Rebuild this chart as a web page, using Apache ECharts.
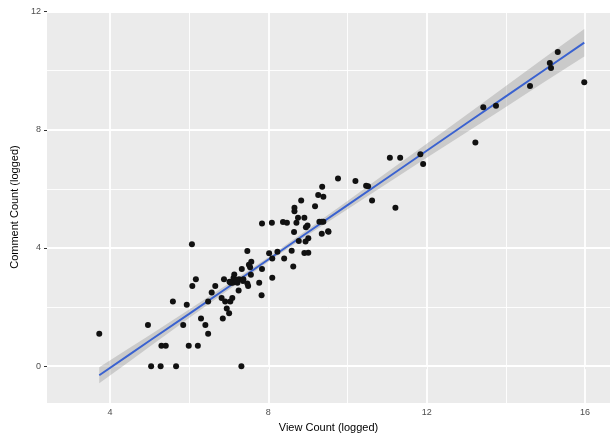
<!DOCTYPE html>
<html>
<head>
<meta charset="utf-8">
<script src="https://cdn.jsdelivr.net/npm/echarts@6/dist/echarts.min.js"></script>
<style>html,body{margin:0;padding:0;background:#fff}#c{width:611px;height:438px}</style>
</head>
<body>
<div id="c"></div>
<script>
// Observed points (logged values)
const viewCount = [3.73,4.96,5.04,5.28,5.30,5.41,5.59,5.67,5.85,5.94,5.99,6.07,6.08,6.17,6.22,6.30,6.41,6.48,6.48,6.57,6.66,6.82,6.85,6.88,6.91,6.95,7.01,7.04,7.05,7.09,7.10,7.14,7.18,7.22,7.25,7.26,7.32,7.33,7.37,7.36,7.47,7.47,7.49,7.51,7.54,7.56,7.57,7.77,7.83,7.84,7.84,8.02,8.09,8.10,8.10,8.23,8.37,8.40,8.47,8.59,8.63,8.65,8.66,8.66,8.71,8.75,8.77,8.83,8.91,8.91,8.94,8.95,8.99,9.01,9.01,9.18,9.26,9.29,9.35,9.35,9.36,9.39,9.39,9.51,9.52,9.76,10.20,10.47,10.52,10.62,11.07,11.21,11.33,11.84,11.91,13.23,13.43,13.75,14.61,15.11,15.14,15.31,15.98,7.02,7.12,7.20];
const commentCount = [1.10,1.39,0,0,0.69,0.69,2.19,0,1.39,2.08,0.69,4.13,2.71,2.94,0.69,1.61,1.39,1.10,2.19,2.49,2.71,2.31,1.61,2.94,2.19,1.95,1.79,2.19,2.82,2.31,2.82,3.10,2.92,2.82,2.56,2.94,0,3.29,2.94,2.88,3.90,2.80,2.71,3.43,3.35,3.09,3.53,2.82,2.40,3.29,4.83,3.82,4.85,3.64,2.99,3.87,4.88,3.64,4.85,3.91,3.37,4.54,5.36,5.24,4.85,5.02,4.24,5.61,5.02,3.83,4.22,4.70,4.76,4.33,3.84,5.41,5.79,4.89,4.48,4.89,6.07,5.73,4.89,4.57,4.55,6.35,6.27,6.11,6.09,5.61,7.05,5.36,7.05,7.17,6.84,7.57,8.76,8.81,9.48,10.26,10.09,10.63,9.61,2.86,2.98,2.90];

// Fitted line and confidence band
const fitX     = [3.73,4.5,5,6,7,8,9,10,11,12,13,14,15,15.98];
const fitY     = [-0.31,0.40,0.86,1.77,2.69,3.61,4.53,5.45,6.37,7.29,8.21,9.13,10.05,10.95];
const bandLow  = [-0.58,0.17,0.66,1.63,2.59,3.53,4.44,5.31,6.18,7.05,7.91,8.77,9.64,10.48];
const bandHigh = [-0.04,0.62,1.05,1.92,2.80,3.69,4.63,5.59,6.56,7.53,8.50,9.48,10.46,11.41];

// Axis ticks
const xTicks = [4,8,12,16];
const yTicks = [0,4,8,12];
const xMinor = [6,10,14];
const yMinor = [2,6,10];

const points = viewCount.map((v,i)=>[v, commentCount[i]]);
const lineData = fitX.map((v,i)=>[v, fitY[i]]);
const bandData = fitX.map((v,i)=>[v, bandLow[i], bandHigh[i]]);

const gridLines = [];
xTicks.forEach(v=>gridLines.push({xAxis:v, lineStyle:{color:'#fff', width:1.8, type:'solid'}}));
yTicks.forEach(v=>gridLines.push({yAxis:v, lineStyle:{color:'#fff', width:1.8, type:'solid'}}));
xMinor.forEach(v=>gridLines.push({xAxis:v, lineStyle:{color:'#fff', width:0.9, type:'solid'}}));
yMinor.forEach(v=>gridLines.push({yAxis:v, lineStyle:{color:'#fff', width:0.9, type:'solid'}}));

const font = 'Liberation Sans, Arial, sans-serif';
const chart = echarts.init(document.getElementById('c'), null, {renderer:'canvas'});
chart.setOption({
  animation:false,
  backgroundColor:'#fff',
  grid:{left:47, right:1, top:11, bottom:31, show:true, backgroundColor:'#EBEBEB', borderWidth:0},
  xAxis:{
    type:'value', min:2.41, max:16.63,
    name:'View Count (logged)', nameLocation:'middle', nameGap:15,
    nameTextStyle:{color:'#000', fontSize:11, fontFamily:font},
    axisLine:{show:false},
    axisTick:{show:true, length:3, lineStyle:{color:'#333', width:1}, customValues:xTicks},
    axisLabel:{color:'#4D4D4D', fontSize:9, fontFamily:font, margin:5, customValues:xTicks},
    splitLine:{show:false}
  },
  yAxis:{
    type:'value', min:-1.25, max:12.02,
    name:'Comment Count (logged)', nameLocation:'middle', nameGap:20,
    nameTextStyle:{color:'#000', fontSize:11, fontFamily:font},
    axisLine:{show:false},
    axisTick:{show:true, length:3, lineStyle:{color:'#333', width:1}, customValues:yTicks},
    axisLabel:{color:'#4D4D4D', fontSize:9, fontFamily:font, margin:6, customValues:yTicks},
    splitLine:{show:false}
  },
  series:[
    {type:'scatter', data:[[3,3]], symbolSize:0, silent:true, z:1,
     markLine:{silent:true, z:1, symbol:['none','none'], label:{show:false}, animation:false, data:gridLines}},
    {type:'custom', data:bandData, z:2, silent:true, clip:true,
     encode:{x:0, y:[1,2]},
     renderItem:function(params, api){
       if (params.dataIndex !== 0) return null;
       const pts = [];
       for (let i=0;i<bandData.length;i++) pts.push(api.coord([bandData[i][0], bandData[i][2]]));
       for (let i=bandData.length-1;i>=0;i--) pts.push(api.coord([bandData[i][0], bandData[i][1]]));
       return {type:'polygon', shape:{points:pts}, style:{fill:'rgba(153,153,153,0.4)', stroke:null}};
     }},
    {type:'line', data:lineData, symbol:'none', lineStyle:{color:'#3A62D0', width:1.9}, z:3, silent:true},
    {type:'scatter', data:points, symbolSize:6, itemStyle:{color:'#111', opacity:1}, z:4}
  ]
});
</script>
</body>
</html>
